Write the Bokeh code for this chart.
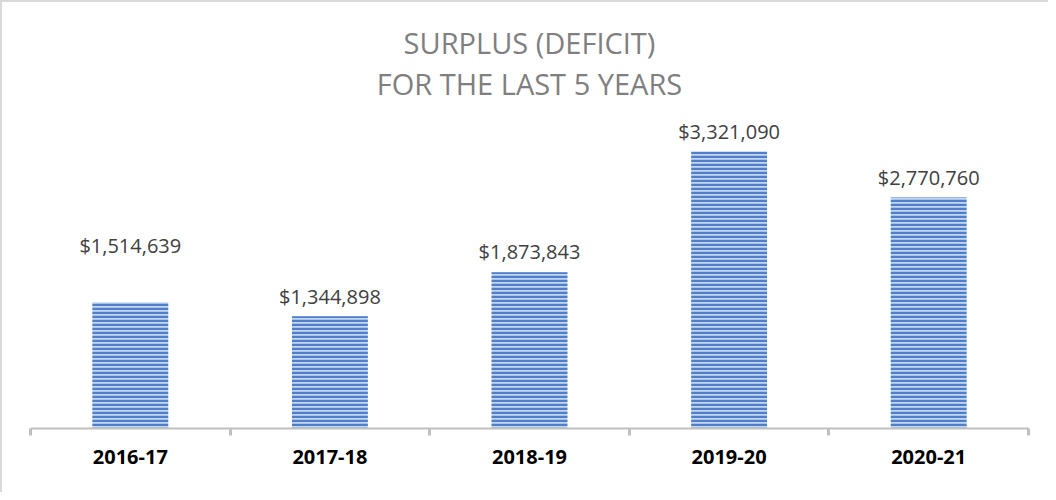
from bokeh.plotting import figure
from bokeh.models import ColumnDataSource, Range1d, FixedTicker, Title
from bokeh.core.properties import value
from bokeh.embed import file_html
from bokeh.resources import INLINE

# ---- data ----
categories = ["2016-17", "2017-18", "2018-19", "2019-20", "2020-21"]
surplus = [1514639, 1344898, 1873843, 3321090, 2770760]
label_texts = ["$1,514,639", "$1,344,898", "$1,873,843", "$3,321,090", "$2,770,760"]
label_offsets = [-57, -20, -21, -20, -20]
title_line1 = "SURPLUS (DEFICIT)"
title_line2 = "FOR THE LAST 5 YEARS"

xs = [i + 0.5 for i in range(len(categories))]
src = ColumnDataSource(dict(x=xs, top=surplus, label=label_texts, off=label_offsets))

p = figure(width=1048, height=492, output_backend="svg", toolbar_location=None,
           x_range=Range1d(0, len(categories)), y_range=Range1d(0, 3910000),
           min_border_left=28, min_border_right=22, min_border_top=100, min_border_bottom=66,
           background_fill_color="white", border_fill_color="white")
p.title = None
for txt in (title_line2, title_line1):
    t = Title(text=txt, align="center", text_font="Open Sans", text_font_size="29px",
              text_font_style="normal", text_color="#7f7f7f", standoff=0)
    p.add_layout(t, "above")

p.vbar(x="x", top="top", bottom=0, width=0.38, source=src,
       fill_color="#c5d7f0", line_color=None,
       hatch_pattern="horizontal_line", hatch_color="#4e7fc8", hatch_scale=4, hatch_weight=2.5)

p.text(x="x", y="top", text="label", y_offset="off", source=src,
       text_align="center", text_baseline="middle",
       text_font=value("Open Sans"), text_font_size="20px", text_color="#404040")

p.yaxis.visible = False
p.xgrid.visible = False
p.ygrid.visible = False
p.outline_line_color = None

ax = p.xaxis[0]
ax.ticker = FixedTicker(ticks=xs, minor_ticks=list(range(len(categories) + 1)))
ax.major_label_overrides = {x: c for x, c in zip(xs, categories)}
ax.axis_line_color = "#bfbfbf"
ax.axis_line_width = 2
ax.major_tick_line_color = None
ax.major_tick_in = 0
ax.major_tick_out = 0
ax.minor_tick_line_color = "#bfbfbf"
ax.minor_tick_line_width = 3
ax.minor_tick_in = 0
ax.minor_tick_out = 7
ax.major_label_standoff = 14
ax.major_label_text_font = "Open Sans"
ax.major_label_text_font_style = "bold"
ax.major_label_text_font_size = "20px"
ax.major_label_text_color = "#000000"

p.styles = {"border-left": "2px solid #d9d9d9", "border-top": "2px solid #d9d9d9"}

open("out.html", "w").write(file_html(p, INLINE))
